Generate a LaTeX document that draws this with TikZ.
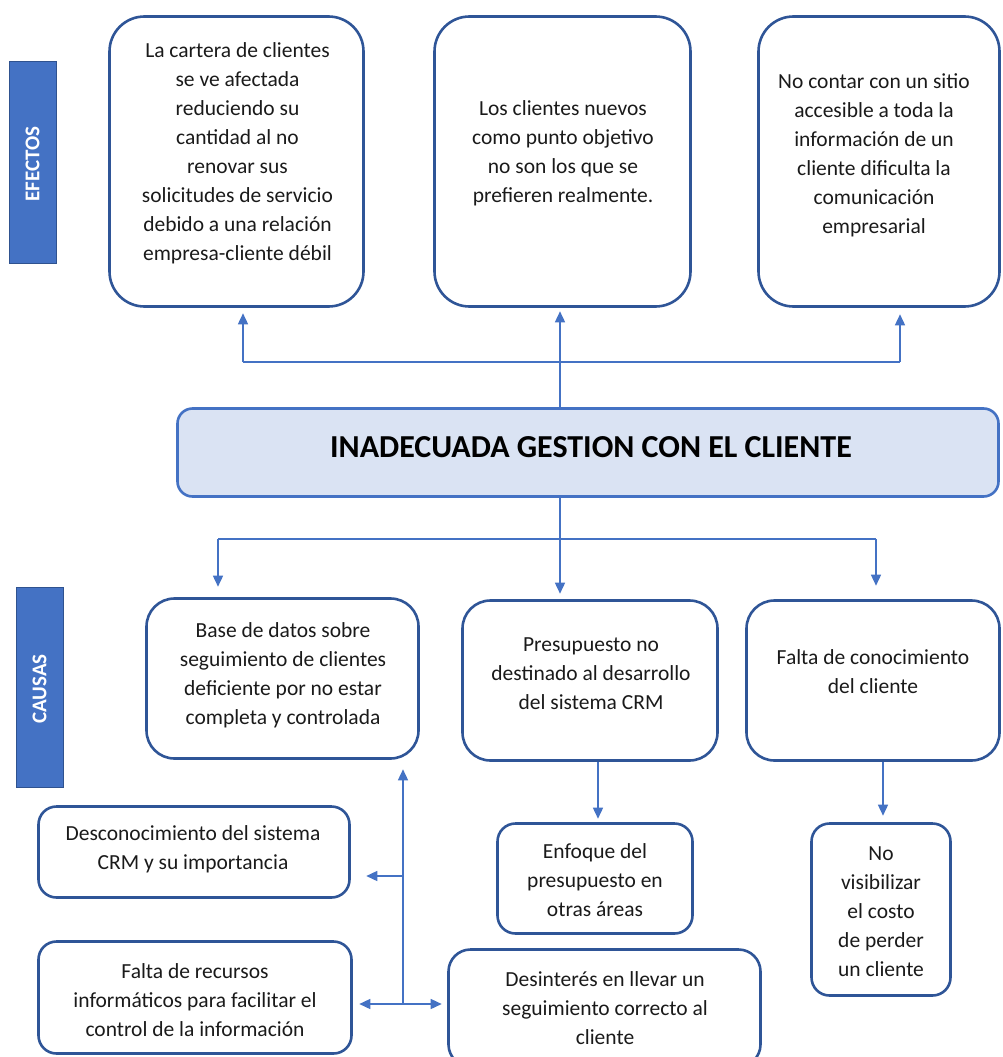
\documentclass[tikz,border=0pt]{standalone}
\usepackage{fontspec}
\setmainfont{Carlito}
\usetikzlibrary{arrows.meta}
\definecolor{boxblue}{HTML}{2F5597}
\definecolor{arrblue}{HTML}{4472C4}
\definecolor{barblue}{HTML}{4472C4}
\definecolor{barline}{HTML}{2F528F}
\definecolor{lightblue}{HTML}{DAE3F3}
\definecolor{txt}{HTML}{1A1A1A}

\begin{document}
\begin{tikzpicture}[x=1pt,y=-1pt,
  frame/.style={draw=boxblue, line width=2.6pt, inner sep=0pt, rectangle},
  body/.style={align=center, inner sep=0pt, text=txt, font=\fontsize{21.5}{29}\selectfont},
  bar/.style={draw=barline, line width=1pt, fill=barblue, inner sep=0pt},
  barlabel/.style={rotate=90, text=white, font=\fontsize{21}{21}\selectfont\bfseries},
  conn/.style={draw=arrblue, line width=1.5pt},
  arr/.style={conn, -{Triangle[width=10pt,length=11pt]}},
]
\useasboundingbox (0,0) rectangle (1003,1057);
\clip (0,0) rectangle (1003,1057);

% side labels
\node[bar, minimum width=47pt, minimum height=201pt] (efb) at (32.5,162.5) {};
\node[barlabel] (eft) at (32.5,164) {EFECTOS};
\node[bar, minimum width=47pt, minimum height=200pt] (cab) at (39.5,687) {};
\node[barlabel] (cat) at (39.5,689) {CAUSAS};

% effects
\node[frame, rounded corners=35pt, minimum width=254pt, minimum height=290pt] (e1) at (236.5,161.5) {};
\node[body] (e1t) at (237.5,153) {La cartera de clientes\\se ve afectada\\reduciendo su\\cantidad al no\\renovar sus\\solicitudes de servicio\\debido a una relación\\empresa-cliente débil};
\node[frame, rounded corners=35pt, minimum width=256pt, minimum height=290pt] (e2) at (562.5,161.5) {};
\node[body] (e2t) at (563,153) {Los clientes nuevos\\como punto objetivo\\no son los que se\\prefieren realmente.};
\node[frame, rounded corners=35pt, minimum width=241pt, minimum height=290pt] (e3) at (879,161.5) {};
\node[body] (e3t) at (874,155) {No contar con un sitio\\accesible a toda la\\información de un\\cliente dificulta la\\comunicación\\empresarial};

% central problem
\node[draw=arrblue, fill=lightblue, line width=2.6pt, rounded corners=15pt, inner sep=0pt,
      minimum width=821pt, minimum height=88pt] (main) at (588,452.5) {};
\node[text=black, font=\fontsize{32}{32}\selectfont\bfseries] (maint) at (591,447) {INADECUADA GESTION CON EL CLIENTE};

% causes
\node[frame, rounded corners=28pt, minimum width=272pt, minimum height=160pt] (c1) at (282.5,678.5) {};
\node[body] (c1t) at (283,675) {Base de datos sobre\\seguimiento de clientes\\deficiente por no estar\\completa y controlada};
\node[frame, rounded corners=28pt, minimum width=255pt, minimum height=160pt] (c2) at (590,680.5) {};
\node[body] (c2t) at (591,674) {Presupuesto no\\destinado al desarrollo\\del sistema CRM};
\node[frame, rounded corners=28pt, minimum width=253pt, minimum height=160pt] (c3) at (873,680.5) {};
\node[body] (c3t) at (873,672) {Falta de conocimiento\\del cliente};

% secondary causes
\node[frame, rounded corners=18pt, minimum width=311pt, minimum height=91pt] (d1) at (194,852) {};
\node[body] (d1t) at (193,849) {Desconocimiento del sistema\\CRM y su importancia};
\node[frame, rounded corners=18pt, minimum width=313pt, minimum height=112pt] (d2) at (195,997.5) {};
\node[body] (d2t) at (195,1000) {Falta de recursos\\informáticos para facilitar el\\control de la información};
\node[frame, rounded corners=18pt, minimum width=195pt, minimum height=110pt] (f1) at (595,878.5) {};
\node[body] (f1t) at (595,880) {Enfoque del\\presupuesto en\\otras áreas};
\node[frame, rounded corners=22pt, minimum width=312pt, minimum height=117pt] (f2) at (604.5,1008) {};
\node[body] (f2t) at (605,1008) {Desinterés en llevar un\\seguimiento correcto al\\cliente};
\node[frame, rounded corners=18pt, minimum width=139pt, minimum height=172pt] (g1) at (881,909.5) {};
\node[body] (g1t) at (881,912) {No\\visibilizar\\el costo\\de perder\\un cliente};

% connectors: problem to effects
\coordinate (tl) at (243,362);
\coordinate (tr) at (900,362);
\draw[conn] (tl) -- (tr);
\draw[arr, shorten >=5.5pt] (tl) -- (tl |- e1.south);
\draw[arr, shorten >=6.5pt] (tr) -- (tr |- e3.south);
\coordinate (tm) at (560,362);
\draw[arr, shorten >=3.5pt] (main.north -| tm) -- (tm |- e2.south);

% connectors: problem to causes
\coordinate (bj) at (560,539);
\coordinate (bl) at (218,539);
\coordinate (br) at (876,539);
\draw[conn] (main.south -| bj) -- (bj);
\draw[conn] (bl) -- (br);
\draw[arr, shorten >=5.5pt] (bj) -- (bj |- c2.north);
\draw[arr, shorten >=10.5pt] (bl) -- (bl |- c1.north);
\draw[arr, shorten >=13.5pt] (br) -- (br |- c3.north);

% connectors: causes to sub-causes
\coordinate (fx) at (598,0);
\coordinate (gx) at (883,0);
\draw[arr, shorten >=3.5pt] (c2.south -| fx) -- (f1.north -| fx);
\draw[arr, shorten >=6.5pt] (c3.south -| gx) -- (g1.north -| gx);

% left cluster
\coordinate (lv) at (403,1004);
\coordinate (lb) at (403,876);
\draw[arr, shorten >=9.5pt] (lv) -- (lv |- c1.south);
\draw[arr, shorten >=15.5pt] (lb) -- (lb -| d1.east);
\draw[arr, shorten >=6.5pt] (lv) -- (lv -| d2.east);
\draw[arr, shorten >=5.5pt] (lv) -- (lv -| f2.west);
\end{tikzpicture}
\end{document}
